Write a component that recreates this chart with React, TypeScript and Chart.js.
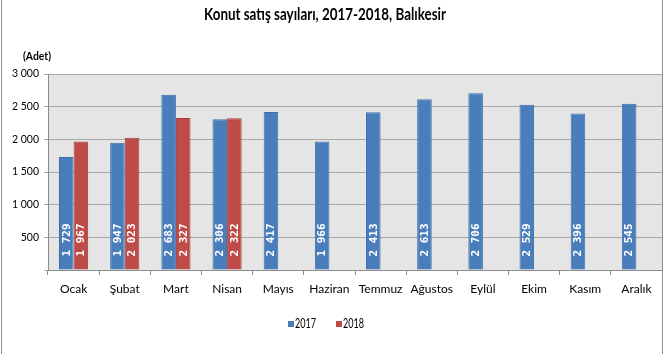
import React, { useEffect, useRef } from "react";
import { Chart, registerables } from "chart.js";

Chart.register(...registerables);

const months = ["Ocak", "Şubat", "Mart", "Nisan", "Mayıs", "Haziran", "Temmuz", "Ağustos", "Eylül", "Ekim", "Kasım", "Aralık"];
const sales2017 = [1729, 1947, 2683, 2306, 2417, 1966, 2413, 2613, 2706, 2529, 2396, 2545];
const sales2018: (number | null)[] = [1967, 2023, 2327, 2322, null, null, null, null, null, null, null, null];
const seriesNames = ["2017", "2018"];
const yTicks = [0, 500, 1000, 1500, 2000, 2500, 3000];
const titleText = "Konut satış sayıları, 2017-2018, Balıkesir";
const unitText = "(Adet)";

const BLUE = "#4a7ebb";
const RED = "#be4b48";
const FAM = "Lato, 'Open Sans', sans-serif";

const fmt = (v: number) => {
  const s = String(Math.round(v));
  return s.replace(/\B(?=(\d{3})+(?!\d))/g, " ");
};

// draw text squeezed horizontally to a target width (reference uses a narrow font)
const drawFitted = (ctx: CanvasRenderingContext2D, text: string, cx: number, cy: number, targetW: number, align: "center" | "left") => {
  const w = ctx.measureText(text).width;
  const k = Math.min(1, targetW / w);
  ctx.save();
  ctx.translate(cx, cy);
  ctx.scale(k, 1);
  ctx.textAlign = align;
  ctx.fillText(text, 0, 0);
  ctx.restore();
};

const decorPlugin = {
  id: "decor",
  beforeDraw(chart: any) {
    const { ctx, chartArea: a, width, height } = chart;
    ctx.save();
    ctx.fillStyle = "#ffffff";
    ctx.fillRect(0, 0, width, height);
    ctx.fillStyle = "#e5e5e5";
    ctx.fillRect(a.left, a.top, a.right - a.left, a.bottom - a.top);
    ctx.strokeStyle = "#8c8c8c";
    ctx.lineWidth = 1;
    ctx.beginPath();
    ctx.moveTo(1.5, 0);
    ctx.lineTo(1.5, height);
    ctx.moveTo(662.5, 0);
    ctx.lineTo(662.5, height);
    ctx.stroke();
    ctx.restore();
  },
  afterDraw(chart: any) {
    const { ctx } = chart;
    ctx.save();
    ctx.fillStyle = "#000";
    ctx.textBaseline = "middle";
    ctx.font = `bold 17px ${FAM}`;
    drawFitted(ctx, titleText, 325, 15, 242, "center");
    ctx.font = `bold 11px ${FAM}`;
    drawFitted(ctx, unitText, 37, 56, 28, "center");
    // legend
    const colors = [BLUE, RED];
    const lx = [288, 336];
    ctx.font = `12.5px ${FAM}`;
    seriesNames.forEach((n, i) => {
      ctx.fillStyle = colors[i];
      ctx.fillRect(lx[i], 321, 6, 6);
      ctx.fillStyle = "#000";
      drawFitted(ctx, n, lx[i] + 7, 324, 21, "left");
    });
    // data labels
    ctx.fillStyle = "#ffffff";
    ctx.font = "bold 11px 'DejaVu Sans Mono', monospace";
    ctx.textAlign = "left";
    ctx.textBaseline = "middle";
    chart.data.datasets.forEach((ds: any, di: number) => {
      const meta = chart.getDatasetMeta(di);
      meta.data.forEach((el: any, j: number) => {
        const v = ds.data[j];
        if (v == null) return;
        ctx.save();
        ctx.translate(el.x + 0.5, el.base - 13);
        ctx.rotate(-Math.PI / 2);
        ctx.fillText(fmt(v), 0, 0);
        ctx.restore();
      });
    });
    ctx.restore();
  },
};

export default function App() {
  const ref = useRef<HTMLCanvasElement>(null);
  useEffect(() => {
    if (!ref.current) return;
    const chart = new Chart(ref.current, {
      type: "bar",
      data: {
        labels: months,
        datasets: [
          { label: seriesNames[0], data: sales2017, backgroundColor: BLUE, borderColor: "#3f6fa8", borderWidth: 1, categoryPercentage: 0.57, barPercentage: 1 },
          { label: seriesNames[1], data: sales2018, backgroundColor: RED, borderColor: "#a23f3c", borderWidth: 1, categoryPercentage: 0.57, barPercentage: 1 },
        ],
      },
      options: {
        responsive: false,
        animation: false,
        layout: { padding: { top: 74, left: 0, right: 2, bottom: 54 } },
        plugins: { legend: { display: false }, title: { display: false }, tooltip: { enabled: false } },
        scales: {
          x: {
            afterFit: (s: any) => { s.height = 30; },
            grid: { offset: true, drawOnChartArea: false, drawTicks: true, tickLength: 5, color: "#8c8c8c" },
            border: { color: "#8c8c8c" },
            ticks: { color: "#000", font: { family: FAM, size: 12 }, padding: 7, maxRotation: 0, autoSkip: false },
          },
          y: {
            min: yTicks[0],
            max: yTicks[yTicks.length - 1],
            afterFit: (s: any) => { s.width = 48; },
            afterBuildTicks: (s: any) => { s.ticks = yTicks.map((v) => ({ value: v })); },
            grid: { color: "#a8a8a8", tickLength: 4, drawTicks: true },
            border: { color: "#8c8c8c" },
            ticks: { color: "#000", font: { family: FAM, size: 10.5 }, padding: 5, callback: (v: any) => (v === 0 ? "" : fmt(Number(v))) },
          },
        },
      },
      plugins: [decorPlugin],
    });
    return () => chart.destroy();
  }, []);
  return (
    <div style={{ position: "fixed", left: 0, top: 0, width: 664, height: 354 }}>
      <canvas ref={ref} width={664} height={354} />
    </div>
  );
}
